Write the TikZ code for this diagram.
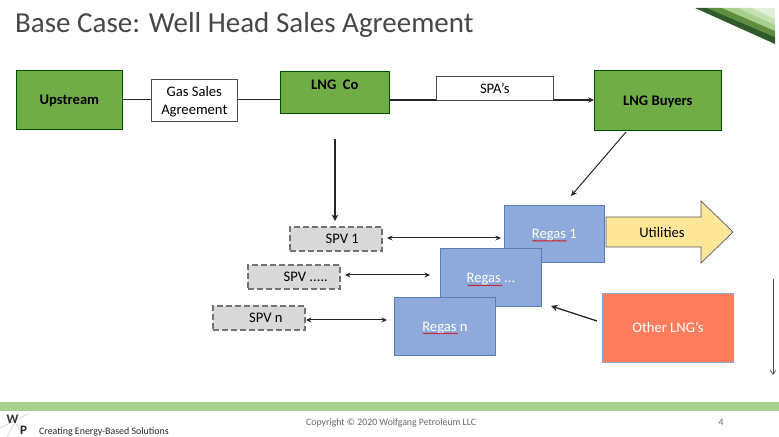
\documentclass[tikz,border=0pt]{standalone}
\usepackage{fontspec}
\setmainfont{Carlito}
\usetikzlibrary{arrows.meta,decorations.pathmorphing,calc}
\newcommand{\bodyf}{\fontsize{14.6bp}{18bp}\selectfont}
\tikzset{
  x=1bp,y=-1bp,
  every node/.style={font=\bodyf},
  greenbox/.style={draw=black!70!green,line width=.7bp,fill=green1,font=\bodyf\bfseries,anchor=north west,inner sep=0pt,text depth=0pt},
  whitebox/.style={draw=black!70,line width=.6bp,fill=white,anchor=north west,inner sep=0pt,align=center},
  spvbox/.style={draw=black!55,dash pattern=on 6bp off 3bp,line width=1.6bp,fill=gray1,anchor=north west,inner sep=0pt},
  regasbox/.style={draw=blue2,line width=.8bp,fill=blue1,text=white,anchor=north west,inner sep=0pt,text depth=0pt},
  conn/.style={line width=1bp,black!85,-{Stealth[length=6bp,width=5.5bp]}},
  thickconn/.style={line width=1.3bp,black!85,-{Stealth[length=6.5bp,width=6.5bp]}},
  both/.style={line width=1bp,black!85,{Stealth[length=5.5bp,width=5bp]}-{Stealth[length=5.5bp,width=5bp]}},
  wavy/.style={draw=red!85!black,line width=.55bp,decorate,decoration={snake,amplitude=.45bp,segment length=2.4bp}},
}
\definecolor{green1}{HTML}{70AD47}
\definecolor{gray1}{HTML}{D9D9D9}
\definecolor{blue1}{HTML}{8EA9DB}
\definecolor{blue2}{HTML}{5B7DB1}
\definecolor{band}{HTML}{A9D18E}
\definecolor{yellow1}{HTML}{FFE699}
\definecolor{coral}{HTML}{FF7C5C}
\definecolor{swa}{HTML}{2F5B2A}
\definecolor{swb}{HTML}{5E8F3C}
\definecolor{swc}{HTML}{A9CF8E}
\definecolor{swd}{HTML}{C6E0B4}
\definecolor{swe}{HTML}{E2EFDA}
\begin{document}
\begin{tikzpicture}
\useasboundingbox (0,0) rectangle (779,437);
% title
\node[anchor=west,inner sep=0pt,text=black!72,font=\fontsize{29bp}{34bp}\selectfont] (title) at (15,25) {Base Case: Well Head Sales Agreement};
% corner swoosh
\fill[swe] (752,8) -- (775,8) -- (775,19) -- cycle;
\fill[swd] (738,8) -- (752,8) -- (775,19) -- (775,25) -- cycle;
\fill[swc] (722,8) -- (738,8) -- (775,25) -- (775,31) -- cycle;
\fill[swb] (707,8) -- (722,8) -- (775,31) -- (775,37) -- cycle;
\fill[swa] (695,8) -- (707,8) -- (775,37) -- (775,44) -- cycle;
% green boxes
\node[greenbox,minimum width=106bp,minimum height=59bp] (up) at (16,70) {Upstream};
\node[greenbox,minimum width=109bp,minimum height=42bp,text depth=16bp] (lng) at (280,71) {LNG\ \ Co};
\node[greenbox,minimum width=127bp,minimum height=60bp] (buy) at (594,70) {LNG Buyers};
% top connectors
\draw[line width=1.3bp,black!85] (up.east) -- (lng.west |- up.east);
\coordinate (lngout) at (lng.east |- 0,100);
\draw[conn,line width=1.3bp] (lngout) -- (buy.west |- lngout);
\node[whitebox,minimum width=86bp,minimum height=42bp] (gsa) at (151,79) {\rule{0pt}{13bp}Gas Sales\\Agreement};
\node[whitebox,minimum width=117bp,minimum height=24bp] (spa) at (436,76) {SPA’s};
% regas
\node[regasbox,minimum width=100bp,minimum height=57bp] (r1) at (504,205) {Regas 1};
\node[regasbox,minimum width=101bp,minimum height=58bp] (r2) at (440,248) {Regas ...};
\node[regasbox,minimum width=101bp,minimum height=58bp] (r3) at (394,297) {Regas n};
\draw[wavy] ($(r1.center)+(-22,7)$) -- ($(r1.center)+(13,7)$);
\draw[wavy] ($(r2.center)+(-23.5,8)$) -- ($(r2.center)+(11.5,8)$);
\draw[wavy] ($(r3.center)+(-22,7)$) -- ($(r3.center)+(13,7)$);
% spv
\node[spvbox,minimum width=92bp,minimum height=24bp] (s1) at (289,226) {\hspace*{13bp}SPV 1};
\node[spvbox,minimum width=92bp,minimum height=24bp] (s2) at (247,264) {\hspace*{24bp}SPV .....};
\node[spvbox,minimum width=92bp,minimum height=24bp] (s3) at (212,305) {\hspace*{14bp}SPV n};
\coordinate (a1l) at (387,238); \coordinate (a1r) at (501,238);
\coordinate (a2l) at (345,275); \coordinate (a2r) at (430,275);
\coordinate (a3l) at (306,320); \coordinate (a3r) at (387,320);
\draw[both] (a1l) -- (a1r);
\draw[both] (a2l) -- (a2r);
\draw[both] (a3l) -- (a3r);
% utilities and other
\draw[draw=black!65,line width=.7bp,fill=yellow1] (606,217) -- (701,217) -- (701,201) -- (733,232) -- (701,263) -- (701,247) -- (606,247) -- cycle;
\node[inner sep=0pt] (util) at (662,232) {Utilities};
\node[draw=blue2!70,line width=.8bp,fill=coral,text=white,anchor=north west,inner sep=0pt,minimum width=131bp,minimum height=69bp] (oth) at (602,293) {Other LNG’s};
% other arrows
\coordinate (dn) at (335,139); \coordinate (dne) at (335,221);
\draw[thickconn] (dn) -- (dne);
\coordinate (b1) at (626,132); \coordinate (b2) at (571,196);
\draw[conn] (b1) -- (b2);
\coordinate (o1) at (597,321); \coordinate (o2) at (551,306);
\draw[thickconn] (o1) -- (o2);
\coordinate (side1) at (773,279); \coordinate (side2) at (773,375);
\draw[line width=.7bp,black!70,-{Straight Barb[length=4bp,width=5.5bp]}] (side1) -- (side2);
% footer
\fill[band] (0,402) rectangle (779,411);
\draw[black!25,line width=.4bp] (0,428) -- (28,414) (7,437) -- (19,414) (12,417) -- (22,434);
\node[inner sep=0pt,font=\fontsize{13bp}{14bp}\selectfont\bfseries,text=black!80] (w) at (12.5,419) {W};
\node[inner sep=0pt,font=\fontsize{13bp}{14bp}\selectfont\bfseries,text=black!85] (p) at (23.5,430) {P};
\node[anchor=west,inner sep=0pt,text=black!85,font=\fontsize{9.9bp}{11bp}\selectfont] (slog) at (39,431.5) {Creating Energy-Based Solutions};
\node[anchor=west,inner sep=0pt,text=black!60,font=\fontsize{9.8bp}{11bp}\selectfont] (copy) at (306,422.5) {Copyright © 2020 Wolfgang Petroleum LLC};
\node[inner sep=0pt,text=black!60,font=\fontsize{9.8bp}{11bp}\selectfont] (num) at (721,422) {4};
\end{tikzpicture}
\end{document}
